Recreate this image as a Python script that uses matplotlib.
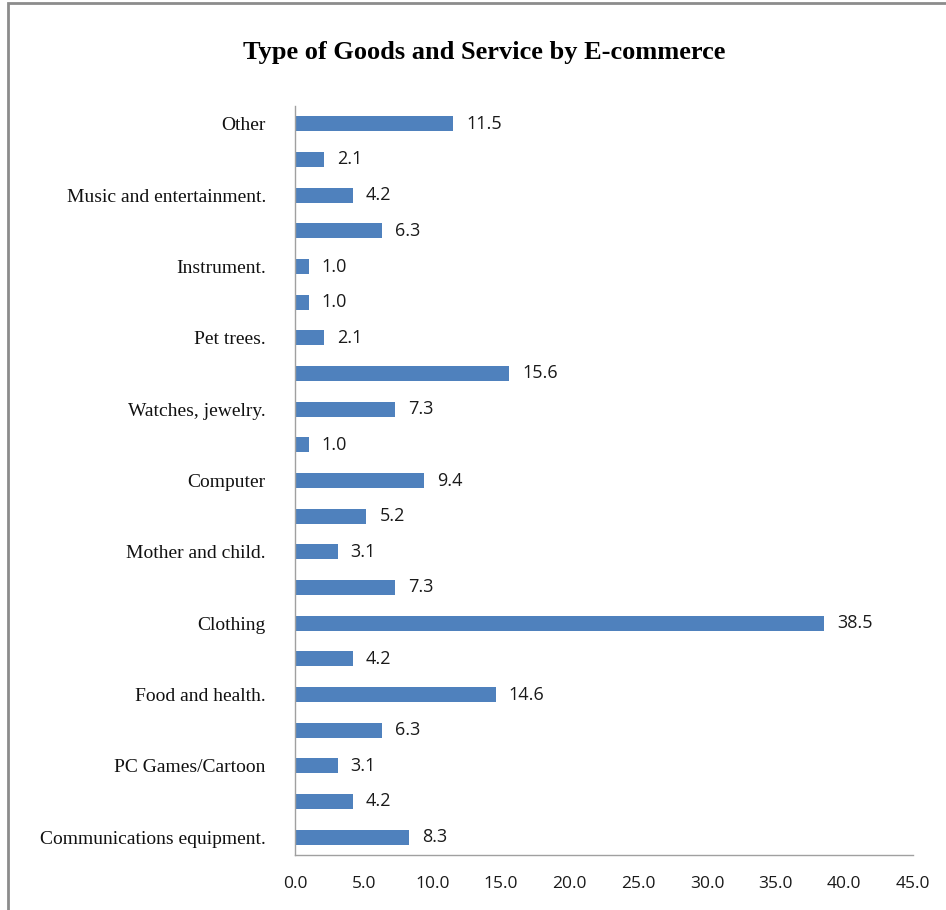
import matplotlib
matplotlib.use("Agg")
import matplotlib.pyplot as plt
from matplotlib.patches import Rectangle

# Categories bottom to top; only every other one carries a label on the axis
categories = [
    "Communications equipment.", "", "PC Games/Cartoon", "", "Food and health.", "",
    "Clothing", "", "Mother and child.", "", "Computer", "", "Watches, jewelry.", "",
    "Pet trees.", "", "Instrument.", "", "Music and entertainment.", "", "Other",
]
values = [8.3, 4.2, 3.1, 6.3, 14.6, 4.2, 38.5, 7.3, 3.1, 5.2, 9.4,
          1.0, 7.3, 15.6, 2.1, 1.0, 1.0, 6.3, 4.2, 2.1, 11.5]
x_ticks = [0, 5, 10, 15, 20, 25, 30, 35, 40, 45]

SERIF = ["Liberation Serif", "DejaVu Serif"]
SANS = ["Open Sans", "DejaVu Sans"]
BAR_COLOR = "#4F81BD"

fig = plt.figure(figsize=(9.46, 9.10), dpi=100)
W, H = 946, 910
ax = fig.add_axes([295 / W, 1 - 855 / H, (913 - 295) / W, (855 - 106) / H])

pos = list(range(len(values)))
ax.barh(pos, values, height=0.42, color=BAR_COLOR)
for p, v in zip(pos, values):
    ax.text(v + 0.95, p, f"{v:.1f}", va="center", ha="left",
            fontsize=13, family=SANS, color="#1A1A1A")

ax.set_xlim(0, 45)
ax.set_ylim(-0.5, len(values) - 0.5)
ax.set_yticks(pos)
ax.set_yticklabels(categories, family=SERIF, fontsize=14, color="#111111")
ax.set_xticks(x_ticks)
ax.set_xticklabels([f"{t:.1f}" for t in x_ticks], family=SANS, fontsize=12.5,
                   color="#1A1A1A")
ax.tick_params(axis="both", length=0)
ax.tick_params(axis="y", pad=21)
ax.tick_params(axis="x", pad=15)

for side in ("top", "right"):
    ax.spines[side].set_visible(False)
for side in ("left", "bottom"):
    ax.spines[side].set_color("#A0A0A0")
    ax.spines[side].set_linewidth(1.0)

fig.text(484 / W, 1 - 52 / H, "Type of Goods and Service by E-commerce",
         ha="center", va="center", fontsize=19, fontweight="bold", family=SERIF)

# chart area frame, running off the right and bottom edges
fig.patches.append(Rectangle((8 / W, -0.05), 1.0, 1 - 3 / H + 0.05,
                             transform=fig.transFigure, fill=False,
                             edgecolor="#8C8C8C", linewidth=2.0))

fig.savefig("out.png", dpi=100)
